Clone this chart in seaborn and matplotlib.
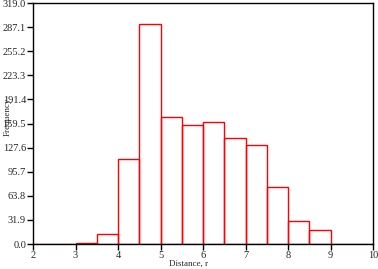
import matplotlib
matplotlib.use("Agg")
import matplotlib.pyplot as plt
import seaborn as sns
import numpy as np

# Data
bin_edges = [2.0, 2.5, 3.0, 3.5, 4.0, 4.5, 5.0, 5.5, 6.0, 6.5, 7.0, 7.5, 8.0, 8.5, 9.0, 9.5, 10.0]
counts = [0, 0, 1, 13, 113, 291, 168, 158, 161, 140, 131, 76, 30, 18, 0, 0]
y_ticks = [0.0, 31.9, 63.8, 95.7, 127.6, 159.5, 191.4, 223.3, 255.2, 287.1, 319.0]
x_ticks = [2, 3, 4, 5, 6, 7, 8, 9, 10]

centers = [(a + b) / 2 for a, b in zip(bin_edges[:-1], bin_edges[1:])]

sns.set_style("white")
plt.rcParams['font.family'] = ['Liberation Serif', 'DejaVu Serif']

fig = plt.figure(figsize=(3.78, 2.69), dpi=100)
ax = fig.add_axes([33 / 378, 1 - 244 / 269, 340 / 378, 241 / 269])

sns.histplot(x=centers, weights=counts, bins=bin_edges, fill=False,
             element="bars", color="#ff0000", linewidth=1.0, ax=ax)

ax.set_xlim(2, 10)
ax.set_ylim(0, 319.0)
ax.set_xticks(x_ticks)
ax.set_xticklabels([str(t) for t in x_ticks])
ax.set_yticks(y_ticks)
ax.set_yticklabels([f"{t:.1f}" for t in y_ticks])
ax.tick_params(axis='both', direction='out', length=4, width=1, color='black',
               labelsize=7.5, pad=1, left=True, bottom=True)

for s in ax.spines.values():
    s.set_visible(True)
    s.set_color('black')
    s.set_linewidth(1.0)

ax.set_xlabel("Distance, r", fontsize=6.5)
ax.set_ylabel("Frequency", fontsize=6.5)
ax.xaxis.set_label_coords((189 - 33) / 340, (244 - 260) / 241)
ax.yaxis.set_label_coords((12 - 33) / 340, (244 - 117) / 241)

fig.savefig("out.png", dpi=100)
